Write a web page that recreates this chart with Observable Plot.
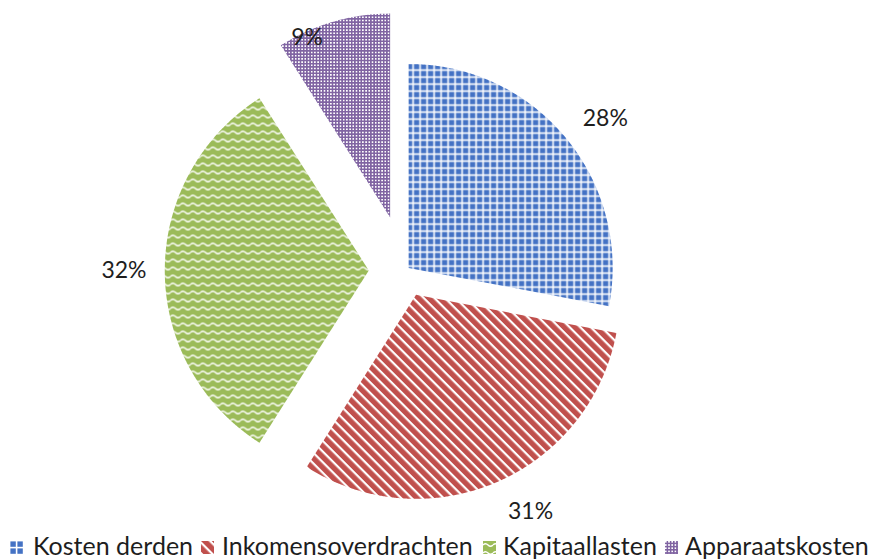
<!DOCTYPE html>
<html><head><meta charset="utf-8">
<script src="https://cdn.jsdelivr.net/npm/d3@7"></script>
<script src="https://cdn.jsdelivr.net/npm/@observablehq/plot@0.6"></script>
<style>
body{margin:0;background:#fff;font-family:Lato,"Open Sans",sans-serif;width:872px;height:560px;overflow:hidden;}
#chart svg{display:block;}
#legend{position:relative;height:32px;}
.item{position:absolute;top:1px;height:32px;display:flex;align-items:center;font-size:25px;color:#1e1e1e;white-space:nowrap;}
</style></head><body>
<svg width="0" height="0" style="position:absolute">
<defs>
<pattern id="pat0" width="7" height="7" patternUnits="userSpaceOnUse">
<rect width="7" height="7" fill="#ffffff"/><rect x="0.4" y="0.4" width="5.4" height="5.4" fill="#4472C4"/>
</pattern>
<pattern id="pat1" width="7.5" height="7.5" patternUnits="userSpaceOnUse" patternTransform="rotate(45)">
<rect width="7.5" height="7.5" fill="#C0504D"/><rect x="0" y="0" width="7.5" height="2.2" fill="#ffffff"/>
</pattern>
<pattern id="pat2" width="10" height="8" patternUnits="userSpaceOnUse">
<rect width="10" height="8" fill="#9BBB59"/><path d="M0,4 Q2.5,1.5 5,4 T10,4" fill="none" stroke="#ffffff" stroke-width="1.4"/>
</pattern>
<pattern id="pat3" width="3.2" height="3.2" patternUnits="userSpaceOnUse">
<rect width="3.2" height="3.2" fill="#8064A2"/><rect x="0" y="0" width="1.6" height="1.6" fill="#ffffff"/>
</pattern>
</defs></svg>
<div id="chart"></div>
<div id="legend"></div>
<script>
const categories = ["Kosten derden", "Inkomensoverdrachten", "Kapitaallasten", "Apparaatskosten"];
const shares = [28, 31, 32, 9];
const labels = ["28%", "31%", "32%", "9%"];
const colors = ["#4472C4", "#C0504D", "#9BBB59", "#8064A2"];

// layout
const W = 872, H = 528, R = 204, CX = 405, CY = 270;
const explode = [0.02, 0.13, 0.18, 0.27];
const labelRadius = [1.21, 1.2, 1.2, 0.97];
const labelNudge = [2.4, -4.5, 0, -8.6];
const legendIconX = [10, 201, 483, 665];
const legendTextX = [33, 222, 503, 685];

const arcs = d3.pie().sort(null).value(d => d)(shares);
const slices = arcs.map((a, i) => {
  const mid = (a.startAngle + a.endAngle) / 2;
  const ox = CX + explode[i] * R * Math.sin(mid);
  const oy = CY - explode[i] * R * Math.cos(mid);
  const pts = [{x: ox, y: oy}];
  const n = Math.max(2, Math.ceil((a.endAngle - a.startAngle) / 0.005));
  for (let k = 0; k <= n; k++) {
    const t = a.startAngle + (k / n) * (a.endAngle - a.startAngle);
    pts.push({x: ox + R * Math.sin(t), y: oy - R * Math.cos(t)});
  }
  pts.push({x: ox, y: oy});
  const la = mid + labelNudge[i] * Math.PI / 180;
  const lab = {x: ox + labelRadius[i] * R * Math.sin(la), y: oy - labelRadius[i] * R * Math.cos(la), text: labels[i]};
  return {pts, lab};
});

const chart = Plot.plot({
  width: W, height: H, margin: 0,
  x: {type: "identity", axis: null},
  y: {type: "identity", axis: null},
  marks: [
    ...slices.map((s, i) => Plot.line(s.pts, {x: "x", y: "y", fill: `url(#pat${i})`, stroke: "none"})),
    Plot.text(slices.map(s => s.lab), {x: "x", y: "y", text: "text", fontSize: 23, fill: "#1e1e1e", fontFamily: "Lato, 'Open Sans', sans-serif"})
  ]
});
document.getElementById("chart").appendChild(chart);

const legend = document.getElementById("legend");
categories.forEach((c, i) => {
  const ic = document.createElementNS("http://www.w3.org/2000/svg", "svg");
  ic.setAttribute("width", 13); ic.setAttribute("height", 13);
  ic.style.position = "absolute"; ic.style.left = legendIconX[i] + "px"; ic.style.top = "13px";
  ic.innerHTML = `<rect width="13" height="13" fill="url(#pat${i})"/>`;
  legend.appendChild(ic);
  const sp = document.createElement("div");
  sp.className = "item";
  sp.style.left = legendTextX[i] + "px";
  sp.textContent = c;
  legend.appendChild(sp);
});
</script>
</body></html>
